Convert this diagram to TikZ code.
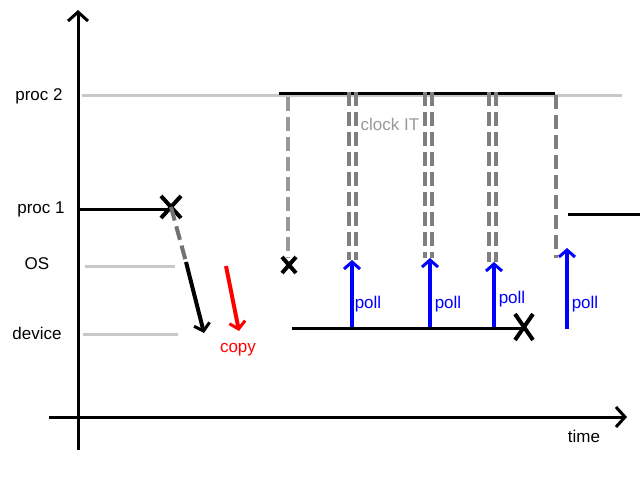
\documentclass[tikz,border=0pt]{standalone}
\usepackage{fontspec}
\setmainfont{Liberation Sans}
\usetikzlibrary{arrows.meta,calc}
\definecolor{lgray}{HTML}{C8C8C8}
\definecolor{mgray}{HTML}{999999}
\definecolor{dgray}{HTML}{7F7F7F}
\definecolor{pblue}{HTML}{0000FF}
\definecolor{pred}{HTML}{FF0000}
\begin{document}
\begin{tikzpicture}[x=1pt,y=-1pt,
  lbl/.style={font=\fontsize{17}{19}\selectfont, inner sep=0pt},
  axis/.style={line width=3pt, -{Straight Barb[length=9pt,width=20pt,line width=3pt]}},
  lane/.style={line width=3pt, lgray},
  busy/.style={line width=3pt, black},
  dsh/.style={line width=4pt, dash pattern=on 14pt off 6pt},
  xmark/.style={line width=4pt, black},
  blarrow/.style={line width=4pt, pblue, -{Straight Barb[length=7pt,width=16pt,line width=3pt]}},
  bkarrow/.style={line width=4pt, black, -{Straight Barb[length=7pt,width=16pt,line width=3pt]}},
  rdarrow/.style={line width=4pt, pred, -{Straight Barb[length=7pt,width=16pt,line width=3pt]}}]
\useasboundingbox (0,0) rectangle (640,480);
% axes
\coordinate (yb) at (78,450); \coordinate (yt) at (78,10);
\coordinate (xl) at (49,417); \coordinate (xr) at (627,417);
\draw[axis] (yb) -- (yt);
\draw[axis] (xl) -- (xr);
% labels
\node[lbl] (lp2) at (39,96) {proc 2};
\node[lbl] (lp1) at (41,209) {proc 1};
\node[lbl] (los) at (37,264) {OS};
\node[lbl] (ldev) at (37,333) {device};
\node[lbl] (ltime) at (584,436) {time};
% gray lanes
\coordinate (p2a) at (82,95); \coordinate (p2b) at (622,95);
\coordinate (osa) at (85,266); \coordinate (osb) at (175,266);
\coordinate (dva) at (83,334); \coordinate (dvb) at (178,334);
\draw[lane] (p2a) -- (p2b);
\draw[lane] (osa) -- (osb);
\draw[lane] (dva) -- (dvb);
% proc 1 busy
\coordinate (p1a) at (80,209); \coordinate (p1e) at (171,209); \coordinate (x1) at (171,207);
\draw[busy] (p1a) -- (p1e);
\draw[xmark] ($(x1)+(-10,-11)$) -- ($(x1)+(10,11)$);
\draw[xmark] ($(x1)+(-10,11)$) -- ($(x1)+(10,-11)$);
% syscall
\coordinate (sc1) at (186,262); \coordinate (sc2) at (204,333);
\draw[dsh, color=dgray!90!black] (x1) -- (sc1);
\draw[bkarrow] (sc1) -- (sc2);
% copy
\coordinate (cp1) at (226,266); \coordinate (cp2) at (239,331);
\draw[rdarrow] (cp1) -- (cp2);
\node[lbl, text=pred] (lcopy) at (238,350) {copy};
% proc 2 busy
\coordinate (p2c) at (279,93); \coordinate (p2d) at (555,93);
\draw[busy] (p2c) -- (p2d);
% first dashed & small x
\coordinate (d0a) at (288,97); \coordinate (d0b) at (288,258);
\draw[dsh, mgray] (d0a) -- (d0b);
\coordinate (x2) at (289,265);
\draw[xmark] ($(x2)+(-7,-8)$) -- ($(x2)+(7,8)$);
\draw[xmark] ($(x2)+(-7,8)$) -- ($(x2)+(7,-8)$);
% device busy
\coordinate (dv1) at (292,328); \coordinate (dv2) at (522,328); \coordinate (x3) at (524,327);
\draw[busy] (dv1) -- (dv2);
\draw[xmark] ($(x3)+(-9,-13)$) -- ($(x3)+(9,13)$);
\draw[xmark] ($(x3)+(-9,13)$) -- ($(x3)+(9,-13)$);
% double dashed clock interrupts
\foreach \xa/\xb/\yb in {349/356/260, 425/432/258, 489/496/262}{
  \draw[dsh, dgray] (\xa,92) -- (\xa,\yb);
  \draw[dsh, dgray] (\xb,92) -- (\xb,\yb);
}
\node[lbl, text=mgray] (lclk) at (390,124) {clock IT};
% single dashed
\coordinate (d5a) at (556,95); \coordinate (d5b) at (556,258);
\draw[dsh, dgray] (d5a) -- (d5b);
% proc 1 resumes
\coordinate (p1c) at (568,214); \coordinate (p1d) at (640,214);
\draw[busy] (p1c) -- (p1d);
% polls
\coordinate (pa1) at (352,327); \coordinate (pa2) at (352,260);
\coordinate (pb1) at (430,327); \coordinate (pb2) at (430,258);
\coordinate (pc1) at (494,327); \coordinate (pc2) at (494,262);
\coordinate (pd1) at (567,329); \coordinate (pd2) at (567,248);
\draw[blarrow] (pa1) -- (pa2);
\draw[blarrow] (pb1) -- (pb2);
\draw[blarrow] (pc1) -- (pc2);
\draw[blarrow] (pd1) -- (pd2);
\node[lbl, text=pblue] (lpa) at (368,304) {poll};
\node[lbl, text=pblue] (lpb) at (448,304) {poll};
\node[lbl, text=pblue] (lpc) at (512,299) {poll};
\node[lbl, text=pblue] (lpd) at (585,304) {poll};
\end{tikzpicture}
\end{document}
